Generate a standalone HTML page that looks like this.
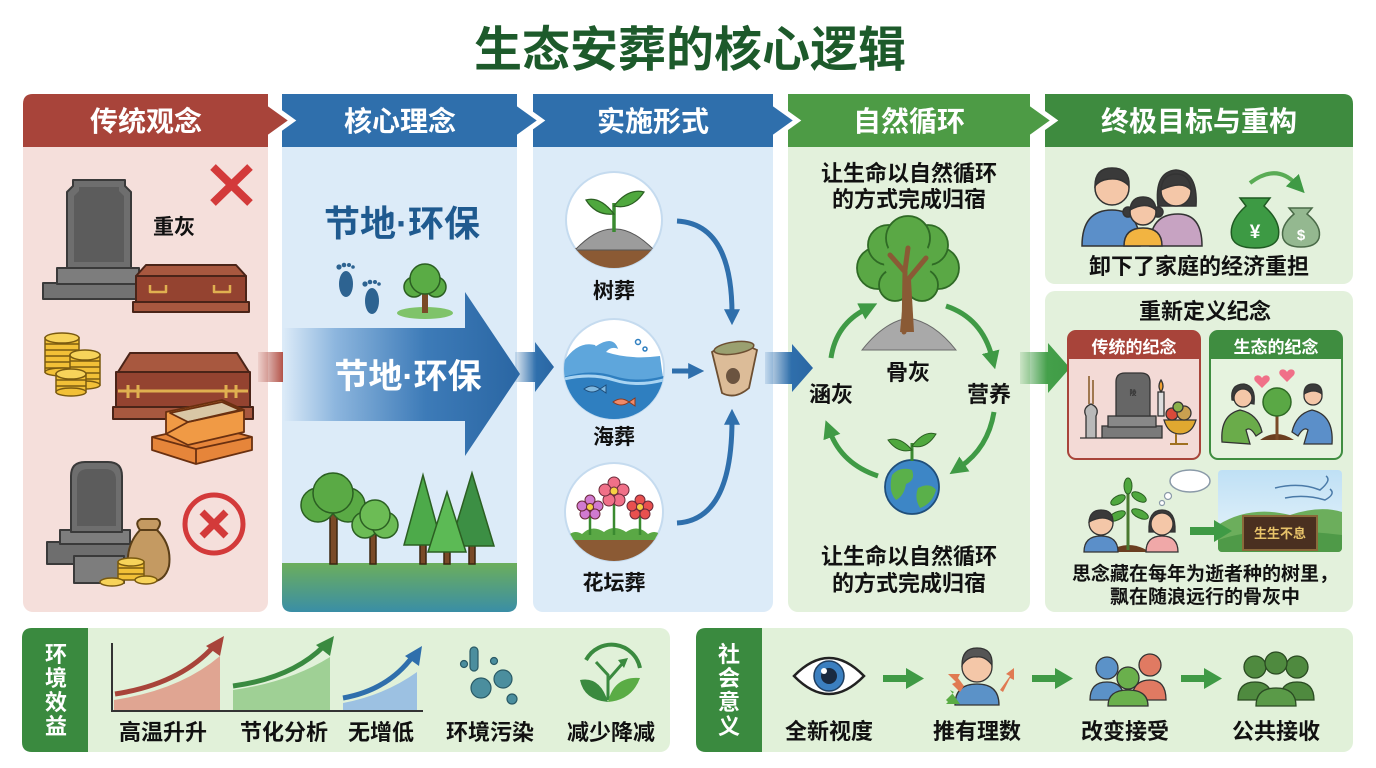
<!DOCTYPE html>
<html><head><meta charset="utf-8">
<style>
html,body{margin:0;padding:0;background:#fff}
body{width:1376px;height:768px;overflow:hidden}
svg{display:block}
text{font-family:"Liberation Sans","Noto Sans CJK SC",sans-serif;font-weight:700;text-anchor:middle}
</style></head><body>
<svg width="1376" height="768" viewBox="0 0 1376 768" xmlns="http://www.w3.org/2000/svg">
<defs>
<linearGradient id="gRed" x1="0" x2="1"><stop offset="0" stop-color="#a8443a" stop-opacity="0.1"/><stop offset="0.55" stop-color="#b0483d"/><stop offset="1" stop-color="#a8443a"/></linearGradient>
<linearGradient id="gBlue" x1="0" x2="1"><stop offset="0" stop-color="#2f6fac" stop-opacity="0.15"/><stop offset="0.55" stop-color="#2f6fac"/><stop offset="1" stop-color="#2a66a3"/></linearGradient>
<linearGradient id="gGreen" x1="0" x2="1"><stop offset="0" stop-color="#3f9a45" stop-opacity="0.15"/><stop offset="0.55" stop-color="#44a04a"/><stop offset="1" stop-color="#3f9a45"/></linearGradient>
<linearGradient id="gBig" x1="283" x2="520" y1="0" y2="0" gradientUnits="userSpaceOnUse"><stop offset="0" stop-color="#dcebf8"/><stop offset="0.22" stop-color="#8db6de"/><stop offset="0.6" stop-color="#3d7bb8"/><stop offset="1" stop-color="#2a66a3"/></linearGradient>
<linearGradient id="gGround" x1="0" y1="0" x2="0" y2="1"><stop offset="0" stop-color="#6cae5c"/><stop offset="1" stop-color="#3a8ea6"/></linearGradient>
<linearGradient id="gSky" x1="0" y1="0" x2="0" y2="1"><stop offset="0" stop-color="#bfe0f5"/><stop offset="1" stop-color="#e9f5fb"/></linearGradient>
<marker id="mB" viewBox="0 0 10 10" refX="3" refY="5" markerWidth="16" markerHeight="16" markerUnits="userSpaceOnUse" orient="auto"><path d="M0,0 L10,5 L0,10 Z" fill="#2f6fac"/></marker>
<marker id="mG" viewBox="0 0 10 10" refX="3" refY="5" markerWidth="18" markerHeight="18" markerUnits="userSpaceOnUse" orient="auto"><path d="M0,0 L10,5 L0,10 Z" fill="#3f9a45"/></marker>
<clipPath id="c1"><circle cx="614" cy="220" r="48"/></clipPath>
<clipPath id="c2"><circle cx="614" cy="369" r="50"/></clipPath>
<clipPath id="c3"><circle cx="614" cy="512" r="49"/></clipPath>
<clipPath id="cLand"><rect x="1218" y="470" width="124" height="82" rx="4"/></clipPath>
</defs>

<!-- Title -->
<text x="690" y="66" font-size="48" fill="#1d5a2b">生态安葬的核心逻辑</text>

<!-- Column bodies -->
<rect x="23" y="94" width="245" height="518" rx="10" fill="#f5dfdb"/>
<rect x="282" y="94" width="235" height="518" rx="10" fill="#dcebf8"/>
<rect x="533" y="94" width="240" height="518" rx="10" fill="#dcebf8"/>
<rect x="788" y="94" width="242" height="518" rx="10" fill="#e3f1dc"/>
<rect x="1045" y="94" width="308" height="190" rx="10" fill="#e3f1dc"/>
<rect x="1045" y="291" width="308" height="321" rx="10" fill="#e3f1dc"/>

<!-- Headers -->
<path d="M1045,94 H1343 Q1353,94 1353,104 V147 H1045 Z" fill="#3e8b3f"/>
<polygon points="1018,104 1031,104 1054,120.5 1031,137 1018,137" fill="#4d9b45" stroke="#fff" stroke-width="5"/>
<rect x="788" y="94" width="242" height="53" fill="#4d9b45"/>
<polygon points="761,104 774,104 797,120.5 774,137 761,137" fill="#2f6fac" stroke="#fff" stroke-width="5"/>
<rect x="533" y="94" width="240" height="53" fill="#2f6fac"/>
<polygon points="505,104 518,104 541,120.5 518,137 505,137" fill="#2f6fac" stroke="#fff" stroke-width="5"/>
<rect x="282" y="94" width="235" height="53" fill="#2f6fac"/>
<polygon points="256,104 269,104 292,120.5 269,137 256,137" fill="#a8443a" stroke="#fff" stroke-width="5"/>
<path d="M33,94 H268 V147 H23 V104 Q23,94 33,94 Z" fill="#a8443a"/>

<g font-size="28" fill="#fff">
<text x="146" y="131">传统观念</text>
<text x="400" y="131">核心理念</text>
<text x="653" y="131">实施形式</text>
<text x="909" y="131">自然循环</text>
<text x="1199" y="131">终极目标与重构</text>
</g>

<!-- ===== Column 1 ===== -->
<g stroke="#3a3a3a" stroke-width="2" stroke-linejoin="round">
 <rect x="43" y="283" width="96" height="16" fill="#727272"/>
 <rect x="57" y="268" width="82" height="16" fill="#7d7d7d"/>
 <path d="M67,268 V192 L73,186 V180 H125 V186 L131,192 V268 Z" fill="#6e6e6e"/>
 <path d="M74,262 V196 L79,191 V187 H119 V191 L124,196 V262 Z" fill="#5c5c5c" stroke="none"/>
</g>
<g stroke="#4a2418" stroke-width="2" stroke-linejoin="round">
 <path d="M136,276 L146,265 H236 L246,276 Z" fill="#a8583f"/>
 <rect x="136" y="276" width="110" height="27" fill="#944330"/>
 <rect x="133" y="302" width="116" height="10" fill="#a8583f"/>
 <path d="M150,285 V292 H166 V285 M214,285 V292 H230 V285" fill="none" stroke="#e0b050" stroke-width="2.5"/>
</g>
<path d="M213,167 L250,203 M250,167 L213,203" stroke="#d33a3a" stroke-width="8"/>
<text x="174" y="234" font-size="21" fill="#111">重灰</text>

<!-- coins -->
<g stroke="#7a5a10" stroke-width="1.5" fill="#f2c037">
 <rect x="45" y="338" width="34" height="34"/>
 <path d="M45,344 H79 M45,350 H79 M45,356 H79 M45,362 H79 M45,368 H79" fill="none"/>
 <ellipse cx="62" cy="372" rx="17" ry="4"/>
 <ellipse cx="62" cy="338" rx="17" ry="5" fill="#f7d35a"/>
 <rect x="70" y="355" width="30" height="30"/>
 <path d="M70,361 H100 M70,367 H100 M70,373 H100 M70,379 H100" fill="none"/>
 <ellipse cx="85" cy="385" rx="15" ry="4"/>
 <ellipse cx="85" cy="355" rx="15" ry="5" fill="#f7d35a"/>
 <rect x="56" y="374" width="30" height="18"/>
 <path d="M56,380 H86 M56,386 H86" fill="none"/>
 <ellipse cx="71" cy="392" rx="15" ry="4"/>
 <ellipse cx="71" cy="374" rx="15" ry="5" fill="#f7d35a"/>
</g>
<!-- big coffin -->
<g stroke="#4a2418" stroke-width="2" stroke-linejoin="round">
 <path d="M118,372 L130,353 H237 L249,372 Z" fill="#a8583f"/>
 <rect x="116" y="372" width="134" height="36" fill="#944330"/>
 <rect x="113" y="407" width="140" height="12" fill="#a8583f"/>
 <path d="M118,391 H248" stroke="#e0b050" stroke-width="3"/>
 <path d="M128,385 V398 M138,385 V398 M226,385 V398 M236,385 V398" stroke="#e0b050" stroke-width="3"/>
</g>
<!-- gift boxes -->
<g stroke="#6a3010" stroke-width="1.8" stroke-linejoin="round">
 <path d="M152,437 L208,425 L252,437 L252,450 L196,464 L152,450 Z" fill="#e6853a"/>
 <path d="M152,437 L196,449 L252,437 M196,449 V464" fill="none"/>
 <path d="M166,412 L222,400 L244,410 L244,432 L188,445 L166,434 Z" fill="#f09a45"/>
 <path d="M170,413 L222,402 L240,410 L188,422 Z" fill="#d9c7a6"/>
 <path d="M166,434 L188,422 L244,410" fill="none"/>
</g>
<!-- tombstone 2 -->
<g stroke="#3a3a3a" stroke-width="2" stroke-linejoin="round">
 <rect x="47" y="542" width="88" height="22" fill="#6e6e6e"/>
 <rect x="60" y="530" width="70" height="14" fill="#7d7d7d"/>
 <path d="M71,532 V476 Q71,462 85,462 H108 Q122,462 122,476 V532 Z" fill="#6e6e6e"/>
 <path d="M77,526 V480 Q77,469 88,469 H105 Q116,469 116,480 V526 Z" fill="#5c5c5c" stroke="none"/>
 <rect x="74" y="556" width="50" height="27" fill="#7d7d7d"/>
</g>
<path d="M140,530 Q134,522 141,519 H157 Q163,522 157,530 Q172,545 169,566 Q165,582 149,582 Q131,582 128,566 Q126,545 140,530 Z" fill="#c49a62" stroke="#5a3e18" stroke-width="2"/>
<path d="M139,530 H158" stroke="#5a3e18" stroke-width="2"/>
<g stroke="#7a5a10" stroke-width="1.5" fill="#f2c037">
 <rect x="118" y="562" width="26" height="18"/>
 <path d="M118,568 H144 M118,574 H144" fill="none"/>
 <ellipse cx="131" cy="562" rx="13" ry="4" fill="#f7d35a"/>
 <ellipse cx="112" cy="582" rx="12" ry="4" fill="#f7d35a"/>
 <ellipse cx="146" cy="580" rx="11" ry="4" fill="#f7d35a"/>
</g>
<circle cx="214" cy="524" r="29" fill="none" stroke="#d33a3a" stroke-width="5"/>
<path d="M202,512 L226,536 M226,512 L202,536" stroke="#d33a3a" stroke-width="7"/>

<!-- red connector -->
<polygon points="258,352 285,352 285,342 307,367 285,392 285,382 258,382" fill="url(#gRed)"/>

<!-- ===== Column 2 ===== -->
<text x="402" y="236" font-size="36" fill="#1f5a8f">节地·环保</text>
<g fill="#2d6391">
 <ellipse cx="346" cy="284" rx="7" ry="13"/>
 <circle cx="339" cy="267" r="2.6"/><circle cx="344" cy="265" r="2.3"/><circle cx="349" cy="265" r="2"/><circle cx="353" cy="267" r="1.8"/>
 <ellipse cx="372" cy="301" rx="7" ry="13"/>
 <circle cx="365" cy="284" r="2.6"/><circle cx="370" cy="282" r="2.3"/><circle cx="375" cy="282" r="2"/><circle cx="379" cy="284" r="1.8"/>
</g>
<ellipse cx="425" cy="313" rx="28" ry="6" fill="#7fc36a"/>
<rect x="422" y="288" width="6" height="25" fill="#7a4a28"/>
<g fill="#5aac45" stroke="#2b5f22" stroke-width="1.5">
 <circle cx="414" cy="287" r="10"/><circle cx="436" cy="287" r="10"/><circle cx="425" cy="279" r="15"/>
</g>
<polygon points="283,328 465,328 465,292 520,374 465,456 465,421 283,421" fill="url(#gBig)"/>
<text x="408" y="388" font-size="34" fill="#fff">节地·环保</text>
<polygon points="515,352 535,352 535,342 554,367 535,392 535,382 515,382" fill="url(#gBlue)"/>

<path d="M282,563 H517 V602 Q517,612 507,612 H292 Q282,612 282,602 Z" fill="url(#gGround)"/>
<g stroke="#3a2410" stroke-width="1.5">
 <rect x="330" y="510" width="7" height="54" fill="#7a4a28"/>
 <rect x="370" y="530" width="6" height="34" fill="#7a4a28"/>
 <rect x="420" y="535" width="6" height="29" fill="#7a4a28"/>
 <rect x="469" y="535" width="6" height="29" fill="#7a4a28"/>
 <rect x="444" y="540" width="6" height="24" fill="#7a4a28"/>
</g>
<g stroke="#2b5f22" stroke-width="1.5">
 <circle cx="318" cy="505" r="17" fill="#5aaa45"/><circle cx="348" cy="505" r="17" fill="#5aaa45"/><circle cx="333" cy="493" r="20" fill="#5aaa45"/>
 <circle cx="365" cy="525" r="13" fill="#6cbc55"/><circle cx="385" cy="525" r="13" fill="#6cbc55"/><circle cx="375" cy="515" r="15" fill="#6cbc55"/>
 <polygon points="423,475 404,545 442,545" fill="#4daa4a"/>
 <polygon points="472,473 450,546 494,546" fill="#3c8f44"/>
 <polygon points="447,492 428,552 466,552" fill="#5cba55"/>
</g>

<!-- ===== Column 3 ===== -->
<circle cx="614" cy="220" r="48" fill="#fff" stroke="#c5dbef" stroke-width="2"/>
<g clip-path="url(#c1)">
 <rect x="560" y="248" width="110" height="30" fill="#8b5a34"/>
 <path d="M575,250 Q596,228 614,229 Q632,228 654,250 Z" fill="#9c9c9c" stroke="#555" stroke-width="1"/>
</g>
<path d="M614,232 V203" stroke="#3a8a30" stroke-width="3.5"/>
<path d="M614,214 Q600,196 586,200 Q596,216 614,214 Z" fill="#4fa83e" stroke="#2b5f22" stroke-width="1.2"/>
<path d="M614,206 Q628,188 644,192 Q632,210 614,206 Z" fill="#4fa83e" stroke="#2b5f22" stroke-width="1.2"/>
<text x="614" y="298" font-size="21" fill="#111">树葬</text>

<circle cx="614" cy="369" r="50" fill="#fff" stroke="#c5dbef" stroke-width="2"/>
<g clip-path="url(#c2)">
 <path d="M560,368 Q575,340 595,345 Q615,332 620,350 Q612,345 606,352 Q630,360 660,356 L670,430 L560,430 Z" fill="#5ea6dc"/>
 <path d="M560,378 Q590,368 614,376 Q640,384 670,374 L670,430 L560,430 Z" fill="#2f7fc0"/>
 <path d="M560,380 Q590,372 614,380 Q640,388 670,378" fill="none" stroke="#a9d4f2" stroke-width="3"/>
 <path d="M595,345 Q615,332 620,350" fill="none" stroke="#fff" stroke-width="3"/>
</g>
<circle cx="638" cy="342" r="2.5" fill="none" stroke="#2f7fc0" stroke-width="1.5"/>
<circle cx="645" cy="349" r="2" fill="none" stroke="#2f7fc0" stroke-width="1.5"/>
<path d="M584,389 q8,-6 16,0 q-8,6 -16,0 z M600,389 l6,-4 v8 z" fill="#7fb8e0" stroke="#1f4e7a" stroke-width="1"/>
<path d="M613,402 q8,-6 16,0 q-8,6 -16,0 z M629,402 l6,-4 v8 z" fill="#ef8a6a" stroke="#8a3a20" stroke-width="1"/>
<text x="614" y="444" font-size="21" fill="#111">海葬</text>

<circle cx="614" cy="512" r="49" fill="#fff" stroke="#c5dbef" stroke-width="2"/>
<g clip-path="url(#c3)">
 <rect x="560" y="538" width="110" height="30" fill="#8b5a34"/>
 <path d="M565,540 Q572,528 582,534 Q592,524 604,532 Q614,524 626,532 Q638,524 648,534 Q658,528 665,540 Z" fill="#5aa845"/>
</g>
<path d="M590,510 V535 M614,495 V535 M640,510 V535" stroke="#3a8a30" stroke-width="2.5"/>
<g stroke="#6a2a3a" stroke-width="1">
 <g fill="#d07ad0"><circle cx="590" cy="500" r="5"/><circle cx="598" cy="506" r="5"/><circle cx="595" cy="514" r="5"/><circle cx="585" cy="514" r="5"/><circle cx="582" cy="506" r="5"/></g>
 <g fill="#f07088"><circle cx="614" cy="483" r="6"/><circle cx="623" cy="490" r="6"/><circle cx="619" cy="500" r="6"/><circle cx="609" cy="500" r="6"/><circle cx="605" cy="490" r="6"/></g>
 <g fill="#e8504f"><circle cx="640" cy="500" r="5"/><circle cx="648" cy="506" r="5"/><circle cx="645" cy="514" r="5"/><circle cx="635" cy="514" r="5"/><circle cx="632" cy="506" r="5"/></g>
 <circle cx="590" cy="507" r="3.5" fill="#f6d043"/><circle cx="614" cy="491" r="4" fill="#f6d043"/><circle cx="640" cy="507" r="3.5" fill="#f6d043"/>
</g>
<text x="614" y="590" font-size="21" fill="#111">花坛葬</text>

<g fill="none" stroke="#2f6fac" stroke-width="5">
 <path d="M677,221 Q732,224 732,314" marker-end="url(#mB)"/>
 <path d="M672,371 H693" marker-end="url(#mB)"/>
 <path d="M677,523 Q732,520 732,420" marker-end="url(#mB)"/>
</g>
<path d="M712,352 Q733,338 757,350 L749,388 Q735,400 722,393 Z" fill="#dcbc98" stroke="#6d4f32" stroke-width="1.8"/>
<ellipse cx="734" cy="348" rx="20" ry="6" fill="#9aa070" stroke="#6d4f32" stroke-width="1.5" transform="rotate(-8 734 348)"/>
<ellipse cx="733" cy="376" rx="7" ry="8" fill="#6b5440"/>
<polygon points="765,352 792,352 792,344 813,368 792,392 792,384 765,384" fill="url(#gBlue)"/>

<!-- ===== Column 4 ===== -->
<g font-size="22" fill="#111">
<text x="909" y="181">让生命以自然循环</text>
<text x="909" y="207">的方式完成归宿</text>
<text x="909" y="564">让生命以自然循环</text>
<text x="909" y="591">的方式完成归宿</text>
<text x="908" y="380">骨灰</text>
<text x="831" y="402">涵灰</text>
<text x="989" y="402">营养</text>
</g>
<path d="M862,350 Q884,322 908,318 Q934,322 956,350 Z" fill="#a9a9a9" stroke="#6a6a6a" stroke-width="1"/>
<g stroke="#2f6a25" stroke-width="1.8" fill="#5aa845">
 <circle cx="878" cy="268" r="21"/><circle cx="938" cy="268" r="21"/>
 <circle cx="888" cy="245" r="20"/><circle cx="928" cy="245" r="20"/>
 <circle cx="908" cy="238" r="22"/><circle cx="895" cy="285" r="16"/><circle cx="922" cy="285" r="16"/>
</g>
<circle cx="908" cy="262" r="24" fill="#5aa845"/>
<path d="M904,332 L905,272 L890,255 M906,282 L926,258 M905,270 L908,248" fill="none" stroke="#8a5a35" stroke-width="5" stroke-linecap="round"/>
<path d="M900,332 H914 L911,280 H905 Z" fill="#8a5a35"/>
<g fill="none" stroke="#3f9a45" stroke-width="5">
 <path d="M831,358 Q836,324 866,309" marker-end="url(#mG)"/>
 <path d="M946,306 Q982,318 992,357" marker-end="url(#mG)"/>
 <path d="M994,412 Q988,448 960,467" marker-end="url(#mG)"/>
 <path d="M878,476 Q842,464 830,432" marker-end="url(#mG)"/>
</g>
<circle cx="912" cy="487" r="27" fill="#3d86c6" stroke="#1f4e7a" stroke-width="1.8"/>
<path d="M892,475 Q900,466 912,470 Q916,480 906,484 Q904,496 896,500 Q888,492 892,475 Z M918,488 Q930,482 936,490 Q932,504 920,508 Q914,498 918,488 Z" fill="#5ab04a"/>
<path d="M912,461 V443" stroke="#3a8a30" stroke-width="3"/>
<path d="M912,450 Q900,436 888,440 Q898,454 912,450 Z" fill="#4fa83e" stroke="#2b5f22" stroke-width="1"/>
<path d="M912,446 Q924,430 936,434 Q926,450 912,446 Z" fill="#4fa83e" stroke="#2b5f22" stroke-width="1"/>
<polygon points="1020,352 1048,352 1048,343 1070,368 1048,393 1048,384 1020,384" fill="url(#gGreen)"/>

<!-- ===== Column 5 ===== -->
<!-- family -->
<g stroke="#333" stroke-width="1.5">
 <path d="M1082,246 Q1082,210 1112,210 Q1140,210 1140,246 Z" fill="#5b8fc9"/>
 <circle cx="1112" cy="188" r="17" fill="#f4c7a8"/>
 <path d="M1095,186 Q1095,168 1112,168 Q1130,168 1129,186 Q1120,176 1104,180 Q1098,182 1095,186 Z" fill="#3a3a3a"/>
 <path d="M1150,246 Q1150,214 1178,214 Q1202,214 1202,246 Z" fill="#c7a3c2"/>
 <path d="M1158,206 Q1154,172 1176,170 Q1198,172 1196,206 Z" fill="#3a3a3a"/>
 <circle cx="1176" cy="191" r="15" fill="#f4c7a8"/>
 <path d="M1161,190 Q1162,174 1176,174 Q1190,174 1191,190 Q1182,180 1161,190 Z" fill="#3a3a3a"/>
 <path d="M1124,246 Q1124,228 1143,228 Q1162,228 1162,246 Z" fill="#f2b441"/>
 <circle cx="1128" cy="212" r="5" fill="#3a3a3a"/><circle cx="1158" cy="212" r="5" fill="#3a3a3a"/>
 <circle cx="1143" cy="212" r="13" fill="#f4c7a8"/>
 <path d="M1130,210 Q1131,197 1143,197 Q1155,197 1156,210 Q1146,201 1130,210 Z" fill="#3a3a3a"/>
</g>
<path d="M1250,183 Q1276,163 1296,184" fill="none" stroke="#5aac55" stroke-width="4" marker-end="url(#mG)"/>
<path d="M1246,206 L1240,198 H1270 L1264,206 Q1282,222 1278,238 Q1274,248 1255,248 Q1236,248 1232,238 Q1228,222 1246,206 Z" fill="#3d9a44" stroke="#1f5a22" stroke-width="1.5"/>
<text x="1255" y="238" font-size="19" fill="#fff">¥</text>
<path d="M1294,214 L1289,208 H1312 L1307,214 Q1322,226 1319,238 Q1316,247 1301,247 Q1286,247 1283,238 Q1280,226 1294,214 Z" fill="#94b890" stroke="#4a6a48" stroke-width="1.5"/>
<text x="1301" y="240" font-size="15" fill="#fff">$</text>
<text x="1199" y="274" font-size="22" fill="#111">卸下了家庭的经济重担</text>
<text x="1205" y="319" font-size="22" fill="#111">重新定义纪念</text>

<!-- card 1 -->
<rect x="1068" y="331" width="132" height="128" rx="8" fill="#f3dad6" stroke="#a8443a" stroke-width="2"/>
<path d="M1076,331 H1192 Q1200,331 1200,339 V359 H1068 V339 Q1068,331 1076,331 Z" fill="#a8443a"/>
<text x="1134" y="353" font-size="17" fill="#fff">传统的纪念</text>
<g stroke="#333" stroke-width="1.3">
 <rect x="1102" y="426" width="60" height="12" fill="#7a7a7a"/>
 <rect x="1108" y="416" width="48" height="11" fill="#888"/>
 <path d="M1116,416 V382 Q1116,373 1125,373 H1141 Q1150,373 1150,382 V416 Z" fill="#666"/>
 <path d="M1080,438 H1102 M1086,438 V416 Q1082,408 1091,404 Q1100,408 1096,416 V438" fill="#b9b9b9"/>
 <path d="M1089,404 V376 M1093,404 V380" stroke="#a07850" stroke-width="2"/>
 <rect x="1158" y="392" width="6" height="24" fill="#ddd"/>
 <path d="M1161,392 Q1157,386 1161,380 Q1165,386 1161,392 Z" fill="#f2a030"/>
 <path d="M1164,420 H1196 Q1192,434 1180,434 Q1168,434 1164,420 Z" fill="#e0a830"/>
 <path d="M1176,434 V444 M1170,444 H1188" stroke="#a07020" stroke-width="2"/>
 <circle cx="1172" cy="414" r="6" fill="#d84a3a"/><circle cx="1184" cy="413" r="7" fill="#c9a050"/><circle cx="1178" cy="407" r="5" fill="#8ab04a"/>
</g>
<text x="1133" y="395" font-size="7" fill="#333">陵</text>
<!-- card 2 -->
<rect x="1210" y="331" width="132" height="128" rx="8" fill="#e6f3df" stroke="#3f8d40" stroke-width="2"/>
<path d="M1218,331 H1334 Q1342,331 1342,339 V359 H1210 V339 Q1210,331 1218,331 Z" fill="#3f8d40"/>
<text x="1276" y="353" font-size="17" fill="#fff">生态的纪念</text>
<path d="M1260,440 Q1276,428 1294,440 Z" fill="#6a3e20"/>
<path d="M1277,440 V410" stroke="#7a4a28" stroke-width="3"/>
<circle cx="1277" cy="402" r="14" fill="#5aa845" stroke="#2f6a25" stroke-width="1.5"/>
<g stroke="#333" stroke-width="1.3">
 <path d="M1222,442 Q1220,415 1240,410 Q1258,414 1262,432 L1256,436 Q1250,426 1246,430 L1250,444 Z" fill="#6aac4a"/>
 <path d="M1232,400 Q1230,384 1244,384 Q1256,386 1254,404 Z" fill="#3a3a3a"/>
 <circle cx="1243" cy="398" r="9" fill="#f4c7a8"/>
 <path d="M1332,444 Q1334,415 1312,410 Q1296,414 1292,432 L1298,436 Q1304,426 1308,430 L1304,444 Z" fill="#5b8fc9"/>
 <circle cx="1313" cy="396" r="9" fill="#f4c7a8"/>
 <path d="M1304,394 Q1304,384 1313,384 Q1322,384 1322,394 Q1314,388 1304,394 Z" fill="#3a3a3a"/>
</g>
<path d="M1262,378 c-3,-5 -10,-2 -7,3 l7,7 l7,-7 c3,-5 -4,-8 -7,-3z" fill="#f07088"/>
<path d="M1287,372 c-3,-5 -10,-2 -7,3 l7,7 l7,-7 c3,-5 -4,-8 -7,-3z" fill="#f07088"/>

<!-- bottom scene -->
<g clip-path="url(#cLand)">
 <rect x="1218" y="470" width="124" height="82" fill="url(#gSky)"/>
 <path d="M1218,525 Q1250,505 1290,515 Q1320,505 1342,512 V552 H1218 Z" fill="#6cae5c"/>
 <path d="M1218,540 Q1260,525 1342,535 V552 H1218 Z" fill="#4f9a48"/>
</g>
<path d="M1275,488 Q1300,482 1320,490 Q1332,480 1326,476 M1285,498 Q1305,494 1325,500 Q1336,494 1330,489" fill="none" stroke="#4a7aa8" stroke-width="1.5"/>
<rect x="1243" y="516" width="74" height="34" fill="#4a3020" stroke="#8a6a3a" stroke-width="2"/>
<text x="1280" y="538" font-size="13" fill="#e8c36a">生生不息</text>
<polygon points="1190,527 1214,527 1214,520 1232,531 1214,542 1214,535 1190,535" fill="#3f9a45"/>
<ellipse cx="1190" cy="481" rx="20" ry="11" fill="#fff" stroke="#8a9aa8" stroke-width="1.5"/>
<circle cx="1168" cy="496" r="3.5" fill="#fff" stroke="#8a9aa8" stroke-width="1.2"/>
<circle cx="1162" cy="503" r="2.5" fill="#fff" stroke="#8a9aa8" stroke-width="1.2"/>
<path d="M1108,552 Q1128,538 1150,552 Z" fill="#6a3e20"/>
<path d="M1128,550 V488" stroke="#4a7a30" stroke-width="3"/>
<g fill="#4fa83e" stroke="#2b5f22" stroke-width="1">
 <ellipse cx="1118" cy="500" rx="8" ry="4" transform="rotate(-30 1118 500)"/>
 <ellipse cx="1139" cy="497" rx="8" ry="4" transform="rotate(30 1139 497)"/>
 <ellipse cx="1117" cy="516" rx="9" ry="4" transform="rotate(-25 1117 516)"/>
 <ellipse cx="1140" cy="514" rx="9" ry="4" transform="rotate(25 1140 514)"/>
 <ellipse cx="1128" cy="486" rx="4" ry="8"/>
</g>
<g stroke="#333" stroke-width="1.3">
 <path d="M1084,552 Q1084,536 1101,536 Q1118,536 1118,552 Z" fill="#5b8fc9"/>
 <circle cx="1101" cy="523" r="12" fill="#f4c7a8"/>
 <path d="M1089,522 Q1090,510 1101,510 Q1113,510 1113,522 Q1104,514 1089,522 Z" fill="#3a3a3a"/>
 <path d="M1146,552 Q1146,536 1162,536 Q1178,536 1178,552 Z" fill="#f0a8a8"/>
 <path d="M1149,532 Q1148,510 1162,510 Q1176,510 1175,532 Z" fill="#3a3a3a"/>
 <circle cx="1162" cy="524" r="11" fill="#f4c7a8"/>
</g>
<text x="1205" y="580" font-size="19" fill="#111">思念藏在每年为逝者种的树里，</text>
<text x="1205" y="603" font-size="19" fill="#111">飘在随浪远行的骨灰中</text>

<!-- ===== Bottom left panel ===== -->
<rect x="22" y="628" width="648" height="124" rx="10" fill="#e1f1d9"/>
<path d="M32,628 H88 V752 H32 Q22,752 22,742 V638 Q22,628 32,628 Z" fill="#3a8a3f"/>
<g font-size="22" fill="#fff">
<text x="56" y="662">环</text><text x="56" y="686">境</text><text x="56" y="710">效</text><text x="56" y="734">益</text>
</g>
<path d="M114,700 Q180,690 220,656 V710 H114 Z" fill="#e0a592"/>
<path d="M115,694 Q180,684 214,646" fill="none" stroke="#a8443a" stroke-width="5" marker-end="url(#mG)" style="marker-end:none"/>
<polygon points="206,646 224,636 220,656" fill="#a8443a"/>
<path d="M233,690 Q290,682 330,657 V710 H233 Z" fill="#9fd095"/>
<path d="M233,686 Q292,678 324,646" fill="none" stroke="#3a8a40" stroke-width="5"/>
<polygon points="316,645 334,636 330,656" fill="#3a8a40"/>
<path d="M343,703 Q385,695 417,672 V710 H343 Z" fill="#9cc1e2"/>
<path d="M343,698 Q388,690 413,656" fill="none" stroke="#2f6fac" stroke-width="5"/>
<polygon points="405,656 422,646 419,666" fill="#2f6fac"/>
<path d="M112,643 V711 H423" fill="none" stroke="#333" stroke-width="2"/>
<g fill="#4b8e9e" stroke="#2a5a66" stroke-width="1.2">
 <rect x="470" y="647" width="8" height="24" rx="4"/>
 <circle cx="464" cy="664" r="3.5"/><circle cx="494" cy="661" r="3.5"/>
 <circle cx="481" cy="688" r="10"/><circle cx="503" cy="679" r="9"/><circle cx="512" cy="699" r="5"/>
</g>
<path d="M586,660 A29,29 0 0 1 640,668" fill="none" stroke="#3a8a3f" stroke-width="4"/>
<path d="M608,700 V675 L596,662 M608,680 L622,664" fill="none" stroke="#3a8a3f" stroke-width="3"/>
<polygon points="618,660 628,658 624,668" fill="#3a8a3f"/>
<path d="M608,702 Q584,700 580,680 Q600,676 608,702 Z" fill="#3a8a3f"/>
<path d="M608,702 Q632,700 640,678 Q614,676 608,702 Z" fill="#5aac45"/>
<g font-size="22" fill="#111">
<text x="163" y="740">高温升升</text>
<text x="284" y="740">节化分析</text>
<text x="381" y="740">无增低</text>
<text x="490" y="740">环境污染</text>
<text x="611" y="740">减少降减</text>
</g>

<!-- ===== Bottom right panel ===== -->
<rect x="696" y="628" width="657" height="124" rx="10" fill="#e1f1d9"/>
<path d="M706,628 H762 V752 H706 Q696,752 696,742 V638 Q696,628 706,628 Z" fill="#3a8a3f"/>
<g font-size="22" fill="#fff">
<text x="729" y="662">社</text><text x="729" y="686">会</text><text x="729" y="710">意</text><text x="729" y="734">义</text>
</g>
<path d="M794,676 Q829,640 864,676 Q829,712 794,676 Z" fill="#fff" stroke="#222" stroke-width="2.5"/>
<circle cx="829" cy="676" r="15" fill="#3b7fc0" stroke="#1f3e60" stroke-width="1.5"/>
<circle cx="829" cy="676" r="8" fill="#1a2a40"/>
<circle cx="824" cy="671" r="3" fill="#fff"/>
<g fill="#3f9a45">
 <rect x="883" y="675" width="26" height="7"/><polygon points="906,668 924,678.5 906,689"/>
 <rect x="1032" y="675" width="26" height="7"/><polygon points="1055,668 1073,678.5 1055,689"/>
 <rect x="1181" y="675" width="26" height="7"/><polygon points="1204,668 1222,678.5 1204,689"/>
</g>
<g stroke="#333" stroke-width="1.3">
 <path d="M955,705 Q955,684 977,684 Q999,684 999,705 Z" fill="#5b92c8"/>
 <circle cx="977" cy="667" r="15" fill="#f4c7a8"/>
 <path d="M962,665 Q962,648 977,648 Q993,648 992,665 Q985,656 977,657 Q968,656 962,665 Z" fill="#555"/>
</g>
<polygon points="1000,690 1010,676 1006,674 1014,668 1014,680 1010,678 1003,692" fill="#e07a52"/>
<polygon points="950,680 958,688 954,690 962,698 950,698 952,694 946,686" fill="#e07a52" transform="rotate(180 955 686)"/>
<polygon points="946,700 954,692 950,690 960,704 946,704 948,702" fill="#5aac45"/>
<g stroke="#333" stroke-width="1.3">
 <path d="M1090,700 Q1090,682 1107,682 Q1124,682 1124,700 Z" fill="#5b92c8"/>
 <circle cx="1107" cy="668" r="11" fill="#5b92c8"/>
 <path d="M1132,700 Q1132,680 1150,680 Q1166,680 1166,700 Z" fill="#e07a62"/>
 <circle cx="1150" cy="665" r="11" fill="#e07a62"/>
 <path d="M1108,706 Q1108,690 1128,690 Q1148,690 1148,706 Z" fill="#6ab04c"/>
 <circle cx="1128" cy="678" r="11" fill="#6ab04c"/>
</g>
<g stroke="#2a4a22" stroke-width="1.3" fill="#4f8a3f">
 <path d="M1238,700 Q1238,682 1255,682 Q1272,682 1272,700 Z"/>
 <circle cx="1255" cy="667" r="11"/>
 <path d="M1280,700 Q1280,682 1297,682 Q1314,682 1314,700 Z"/>
 <circle cx="1297" cy="667" r="11"/>
 <circle cx="1276" cy="663" r="11"/>
 <path d="M1256,706 Q1256,688 1276,688 Q1296,688 1296,706 Z" fill="#5a9a48"/>
</g>
<g font-size="22" fill="#111">
<text x="829" y="739">全新视度</text>
<text x="977" y="739">推有理数</text>
<text x="1125" y="739">改变接受</text>
<text x="1276" y="739">公共接收</text>
</g>
</svg>
</body></html>
